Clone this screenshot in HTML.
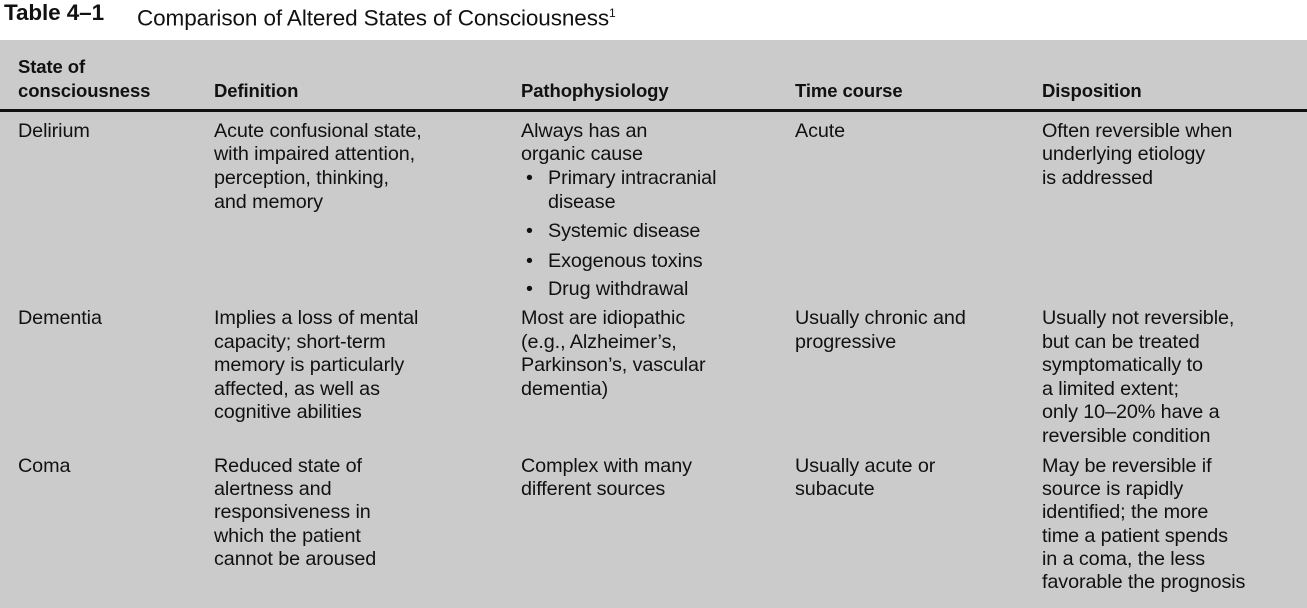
<!DOCTYPE html>
<html><head><meta charset="utf-8"><style>
body{margin:0;width:1307px;height:608px;background:#fff;position:relative;overflow:hidden;font-family:"Liberation Sans",sans-serif;color:#111}
.bg{position:absolute;left:0;top:40px;width:1307px;height:568px;background:#cbcbcb}
.rule{position:absolute;left:0;top:109px;width:1307px;height:3px;background:#111}
.t{position:absolute;font-size:19.8px;line-height:20px;white-space:nowrap;letter-spacing:-0.1px}
.h{font-weight:bold;font-size:18.5px}
.b{position:absolute;font-size:19.8px;line-height:20px;left:526px}
</style></head><body>
<div class="bg"></div><div class="rule"></div>
<div class="t" style="left:4px;top:1px;font-size:22.5px;line-height:24px;font-weight:bold">Table 4–1</div>
<div class="t" style="left:137px;top:1px;font-size:22.5px;line-height:24px">Comparison of Altered States of Consciousness<sup style="font-size:12px">1</sup></div>

<div class="t h" style="left:18px;top:57px">State of</div>
<div class="t h" style="left:18px;top:81px">consciousness</div>
<div class="t h" style="left:214px;top:81px">Definition</div>
<div class="t h" style="left:521px;top:81px">Pathophysiology</div>
<div class="t h" style="left:795px;top:81px">Time course</div>
<div class="t h" style="left:1042px;top:81px">Disposition</div>

<div class="t" style="left:18px;top:121px">Delirium</div>
<div class="t" style="left:214px;top:121px">Acute confusional state,</div>
<div class="t" style="left:214px;top:144px">with impaired attention,</div>
<div class="t" style="left:214px;top:168px">perception, thinking,</div>
<div class="t" style="left:214px;top:192px">and memory</div>
<div class="t" style="left:521px;top:121px">Always has an</div>
<div class="t" style="left:521px;top:144px">organic cause</div>
<div class="b" style="top:168px">•</div><div class="t" style="left:548px;top:168px">Primary intracranial</div>
<div class="t" style="left:548px;top:192px">disease</div>
<div class="b" style="top:221px">•</div><div class="t" style="left:548px;top:221px">Systemic disease</div>
<div class="b" style="top:251px">•</div><div class="t" style="left:548px;top:251px">Exogenous toxins</div>
<div class="b" style="top:279px">•</div><div class="t" style="left:548px;top:279px">Drug withdrawal</div>
<div class="t" style="left:795px;top:121px">Acute</div>
<div class="t" style="left:1042px;top:121px">Often reversible when</div>
<div class="t" style="left:1042px;top:144px">underlying etiology</div>
<div class="t" style="left:1042px;top:168px">is addressed</div>

<div class="t" style="left:18px;top:308px">Dementia</div>
<div class="t" style="left:214px;top:308px">Implies a loss of mental</div>
<div class="t" style="left:214px;top:332px">capacity; short-term</div>
<div class="t" style="left:214px;top:355px">memory is particularly</div>
<div class="t" style="left:214px;top:379px">affected, as well as</div>
<div class="t" style="left:214px;top:402px">cognitive abilities</div>
<div class="t" style="left:521px;top:308px">Most are idiopathic</div>
<div class="t" style="left:521px;top:332px">(e.g., Alzheimer’s,</div>
<div class="t" style="left:521px;top:355px">Parkinson’s, vascular</div>
<div class="t" style="left:521px;top:379px">dementia)</div>
<div class="t" style="left:795px;top:308px">Usually chronic and</div>
<div class="t" style="left:795px;top:332px">progressive</div>
<div class="t" style="left:1042px;top:308px">Usually not reversible,</div>
<div class="t" style="left:1042px;top:332px">but can be treated</div>
<div class="t" style="left:1042px;top:355px">symptomatically to</div>
<div class="t" style="left:1042px;top:379px">a limited extent;</div>
<div class="t" style="left:1042px;top:402px">only 10–20% have a</div>
<div class="t" style="left:1042px;top:426px">reversible condition</div>

<div class="t" style="left:18px;top:456px">Coma</div>
<div class="t" style="left:214px;top:456px">Reduced state of</div>
<div class="t" style="left:214px;top:479px">alertness and</div>
<div class="t" style="left:214px;top:502px">responsiveness in</div>
<div class="t" style="left:214px;top:526px">which the patient</div>
<div class="t" style="left:214px;top:549px">cannot be aroused</div>
<div class="t" style="left:521px;top:456px">Complex with many</div>
<div class="t" style="left:521px;top:479px">different sources</div>
<div class="t" style="left:795px;top:456px">Usually acute or</div>
<div class="t" style="left:795px;top:479px">subacute</div>
<div class="t" style="left:1042px;top:456px">May be reversible if</div>
<div class="t" style="left:1042px;top:479px">source is rapidly</div>
<div class="t" style="left:1042px;top:502px">identified; the more</div>
<div class="t" style="left:1042px;top:526px">time a patient spends</div>
<div class="t" style="left:1042px;top:549px">in a coma, the less</div>
<div class="t" style="left:1042px;top:572px">favorable the prognosis</div>
</body></html>
